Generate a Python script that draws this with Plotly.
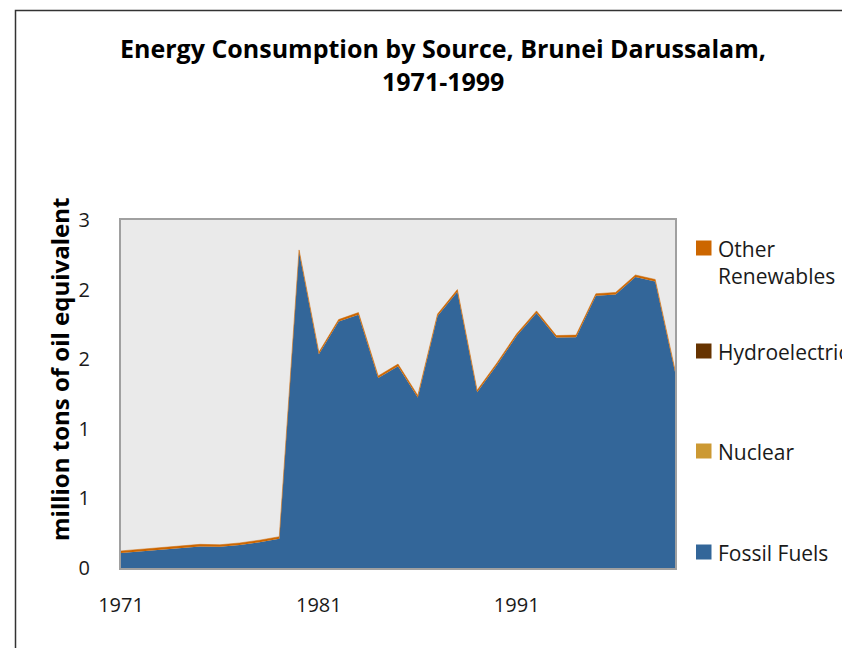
import plotly.graph_objects as go

years = list(range(1971, 2000))
fossil_fuels = [0.108, 0.120, 0.130, 0.145, 0.155, 0.152, 0.165, 0.185, 0.210,
                2.270, 1.535, 1.770, 1.820, 1.365, 1.450, 1.225, 1.810, 1.985,
                1.262, 1.458, 1.668, 1.832, 1.655, 1.658, 1.955, 1.965, 2.090,
                2.058, 1.410]
nuclear = [0.0] * 29
hydroelectric = [0.0] * 29
other_renewables = [0.015] * 29

series_names = ["Fossil Fuels", "Nuclear", "Hydroelectric", "Other Renewables"]
series_values = [fossil_fuels, nuclear, hydroelectric, other_renewables]
series_colors = ["#336699", "#CC9933", "#663300", "#CC6600"]
legend_labels = ["Fossil Fuels", "Nuclear", "Hydroelectric", "Other<br>Renewables"]

y_tick_vals = [0, 0.5, 1.0, 1.5, 2.0, 2.5]
y_tick_text = ["0", "1", "1", "2", "2", "3"]
x_tick_vals = [1971, 1981, 1991]
x_tick_text = ["1971", "1981", "1991"]

FONT = "Open Sans, Noto Sans, DejaVu Sans, sans-serif"

fig = go.Figure()
for name, vals, col in zip(series_names, series_values, series_colors):
    fig.add_trace(go.Scatter(
        x=years, y=vals, name=name, mode="lines", stackgroup="one",
        line=dict(width=0.5 if name == "Other Renewables" else 0, color=col),
        fillcolor=col, showlegend=False, hoverinfo="x+y+name"))

OFF = 8  # page body margin
W, H = 850 - OFF, 648 - OFF
PL, PR, PT, PB = 121, 675, 220, 568  # plot area in screen pixels
L, R, T, B = PL - OFF, W - (PR - OFF), PT - OFF, H - (PB - OFF)
pw, ph = PR - PL, PB - PT

def px2paper_x(px):
    return (px - PL) / pw

def px2paper_y(py):
    return (PB - py) / ph

annotations = [
    dict(text="<b>Energy Consumption by Source, Brunei Darussalam,</b>",
         xref="paper", yref="paper", x=px2paper_x(443), y=px2paper_y(48),
         xanchor="center", yanchor="middle", showarrow=False,
         font=dict(size=25, color="#000000", family=FONT)),
    dict(text="<b>1971-1999</b>",
         xref="paper", yref="paper", x=px2paper_x(443), y=px2paper_y(81),
         xanchor="center", yanchor="middle", showarrow=False,
         font=dict(size=25, color="#000000", family=FONT)),
    dict(text="<b>million tons of oil equivalent</b>", textangle=-90,
         xref="paper", yref="paper", x=px2paper_x(59), y=px2paper_y(370),
         xanchor="center", yanchor="middle", showarrow=False,
         font=dict(size=24, color="#000000", family=FONT)),
]

shapes = [
    dict(type="rect", xref="paper", yref="paper",
         x0=px2paper_x(15.5), x1=px2paper_x(900), y0=px2paper_y(700), y1=px2paper_y(10.5),
         line=dict(color="#333333", width=1.5), fillcolor="rgba(0,0,0,0)", layer="below"),
]

legend_y = [552, 451, 351, 248]
for lab, col, ly in zip(legend_labels, series_colors, legend_y):
    shapes.append(dict(type="rect", xref="paper", yref="paper",
                       x0=px2paper_x(696), x1=px2paper_x(711.5),
                       y0=px2paper_y(ly + 7.5), y1=px2paper_y(ly - 7.5),
                       line=dict(width=0), fillcolor=col))
    annotations.append(dict(text=lab, xref="paper", yref="paper",
                            x=px2paper_x(716), y=px2paper_y(ly - 15.5),
                            xanchor="left", yanchor="top", align="left",
                            showarrow=False,
                            font=dict(size=21, color="#1a1a1a", family=FONT)))

fig.update_layout(
    width=W, height=H,
    margin=dict(l=L, r=R, t=T, b=B),
    paper_bgcolor="#FFFFFF", plot_bgcolor="#EAEAEA",
    font=dict(family=FONT, size=20, color="#1a1a1a"),
    showlegend=False,
    annotations=annotations, shapes=shapes,
    xaxis=dict(range=[1971, 1999], tickvals=x_tick_vals, ticktext=x_tick_text,
               showgrid=False, zeroline=False, showline=True, linecolor="#A0A0A0",
               linewidth=2, mirror=True, ticks="", ticklabelstandoff=18,
               tickfont=dict(size=20, color="#1a1a1a")),
    yaxis=dict(range=[0, 2.5], tickvals=y_tick_vals, ticktext=y_tick_text,
               showgrid=False, zeroline=False, showline=True, linecolor="#A0A0A0",
               linewidth=2, mirror=True, ticks="", ticklabelstandoff=25,
               tickfont=dict(size=20, color="#1a1a1a")),
)

fig.write_html("out.html")
